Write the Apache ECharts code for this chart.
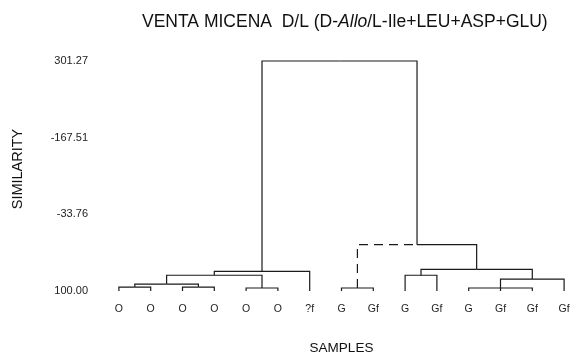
<!DOCTYPE html>
<html>
<head>
<meta charset="utf-8">
<script src="https://cdn.jsdelivr.net/npm/echarts@6/dist/echarts.min.js"></script>
<style>
  html, body { margin: 0; padding: 0; background: #fff; }
  #chart { width: 580px; height: 360px; }
</style>
</head>
<body>
<div id="chart"></div>
<script>
// Leaf samples, left to right
const sampleLabels = ['O', 'O', 'O', 'O', 'O', 'O', '?f', 'G', 'Gf', 'G', 'Gf', 'G', 'Gf', 'Gf', 'Gf'];

// Similarity axis ticks and their printed labels
const tickValues = [100, -33.76, -167.51, -301.27];
const tickLabels = ['100.00', '-33.76', '-167.51', '301.27'];

// Agglomeration steps: ids 0..14 are leaves, each step creates id 15, 16, ...
const mergeChildren = [
  [0, 1], [2, 3], [15, 16], [4, 5], [17, 18], [19, 6],
  [7, 8], [9, 10], [11, 12, 13], [23, 14], [22, 24], [21, 25],
  [20, 26]
];
const mergeSimilarity = [93.1, 93.1, 88.0, 94.8, 72.5, 65.6, 94.8, 72.5, 94.8, 79.3, 62.1, 19.1, -301.27];

const LEAF_LEVEL = 100;
const dashedLinks = [21];

// Build the elbow links of the tree: [childX, childLevel, parentX, parentLevel, childId]
const nodeX = sampleLabels.map((_, i) => i);
const nodeLevel = sampleLabels.map(() => LEAF_LEVEL);
const links = [];
mergeChildren.forEach((kids, k) => {
  const id = sampleLabels.length + k;
  const x = kids.reduce((s, c) => s + nodeX[c], 0) / kids.length;
  nodeX[id] = x;
  nodeLevel[id] = mergeSimilarity[k];
  kids.forEach(c => links.push([nodeX[c], nodeLevel[c], x, mergeSimilarity[k], c]));
});

const FONT = 'Liberation Sans, Arial, Helvetica, sans-serif';
const chart = echarts.init(document.getElementById('chart'), null, { renderer: 'canvas' });

chart.setOption({
  backgroundColor: '#ffffff',
  animation: false,
  title: {
    text: '{a|VENTA MICENA  D/L (D-}{i|Allo}{a|/L-Ile+LEU+ASP+GLU)}',
    left: 137,
    top: 8,
    textStyle: {
      fontWeight: 'normal',
      rich: {
        a: { fontFamily: FONT, fontSize: 17.5, fontWeight: 'normal', color: '#111' },
        i: { fontFamily: FONT, fontSize: 17.5, fontWeight: 'normal', color: '#111', fontStyle: 'italic' }
      }
    }
  },
  grid: { left: 103, right: -5, top: 61, bottom: 66 },
  xAxis: [
    {
      type: 'category',
      data: sampleLabels,
      boundaryGap: true,
      axisLine: { show: false },
      axisTick: { show: false },
      axisLabel: { margin: 13, fontFamily: FONT, fontSize: 10.5, color: '#222', interval: 0 },
      name: 'SAMPLES',
      nameLocation: 'middle',
      nameGap: 50,
      nameTextStyle: { fontFamily: FONT, fontSize: 13.5, color: '#111' }
    },
    {
      type: 'value',
      min: -0.5,
      max: sampleLabels.length - 0.5,
      show: false
    }
  ],
  yAxis: {
    type: 'value',
    inverse: true,
    min: -301.27,
    max: 100,
    splitLine: { show: false },
    axisLine: { show: false },
    axisTick: { show: false },
    axisLabel: {
      customValues: tickValues,
      margin: 15,
      fontFamily: FONT,
      fontSize: 11,
      color: '#222',
      formatter: v => {
        const i = tickValues.findIndex(t => Math.abs(t - v) < 1e-6);
        return i >= 0 ? tickLabels[i] : '';
      }
    },
    name: 'SIMILARITY',
    nameLocation: 'middle',
    nameRotate: 90,
    nameGap: 78,
    nameTextStyle: { fontFamily: FONT, fontSize: 14.5, color: '#111', padding: [0, 0, 0, 14] }
  },
  series: [{
    type: 'custom',
    xAxisIndex: 1,
    yAxisIndex: 0,
    data: links,
    encode: { x: [0, 2], y: [1, 3] },
    renderItem: (params, api) => {
      const a = api.coord([api.value(0), api.value(1)]);
      const b = api.coord([api.value(0), api.value(3)]);
      const c = api.coord([api.value(2), api.value(3)]);
      const dashed = dashedLinks.indexOf(api.value(4)) >= 0;
      return {
        type: 'polyline',
        shape: { points: [a, b, c] },
        style: {
          stroke: '#1a1a1a',
          lineWidth: 1.2,
          fill: 'none',
          lineDash: dashed ? [9, 6] : null
        }
      };
    }
  }]
});
</script>
</body>
</html>
